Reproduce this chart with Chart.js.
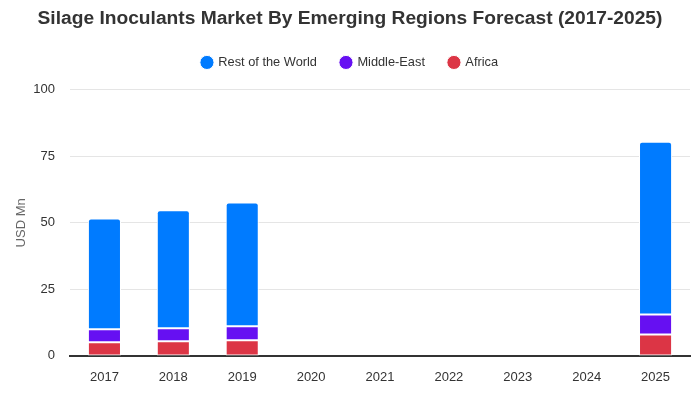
<!DOCTYPE html>
<html><head><meta charset="utf-8">
<script src="https://cdn.jsdelivr.net/npm/chart.js@4"></script>
<style>html,body{margin:0;padding:0;background:#fff}#w{width:700px;height:400px}</style>
</head><body><div id="w"><canvas id="c"></canvas></div>
<script>
const categories = ["2017","2018","2019","2020","2021","2022","2023","2024","2025"];
const africa = [5.1, 5.5, 5.9, null, null, null, null, null, 8.0];
const middleEast = [4.9, 4.9, 5.2, null, null, null, null, null, 7.6];
const restOfWorld = [41.6, 44.3, 46.6, null, null, null, null, null, 64.9];
const yTicks = [0, 25, 50, 75, 100];

const font = "'Liberation Sans', Arial, Helvetica, sans-serif";
const legendGap = {
  id: 'legendGap',
  beforeLayout(chart) {
    const l = chart.legend;
    if (l && !l._gapPatched) {
      const f = l.fit.bind(l);
      l.fit = function () { f(); this.height += 11; };
      l._gapPatched = true;
    }
  }
};
new Chart(document.getElementById('c'), {
  type: 'bar',
  data: {
    labels: categories,
    datasets: [
      {label: 'Africa', data: africa, backgroundColor: '#dc3545', borderColor: '#ffffff', borderWidth: 1, borderSkipped: false},
      {label: 'Middle-East', data: middleEast, backgroundColor: '#6610f2', borderColor: '#ffffff', borderWidth: 1, borderSkipped: false},
      {label: 'Rest of the World', data: restOfWorld, backgroundColor: '#007bff', borderColor: '#ffffff', borderWidth: 1, borderSkipped: false, borderRadius: {topLeft: 3, topRight: 3}}
    ]
  },
  options: {
    responsive: true, maintainAspectRatio: false, animation: false,
    layout: {padding: {left: 10, right: 10, top: 6, bottom: 8.5}},
    datasets: {bar: {barPercentage: 0.5, categoryPercentage: 0.96}},
    plugins: {
      title: {display: true, text: 'Silage Inoculants Market By Emerging Regions Forecast (2017-2025)', color: '#333', font: {family: font, size: 19.2, weight: 'bold'}, padding: {top: 1, bottom: 2}},
      legend: {reverse: true, labels: {usePointStyle: true, pointStyle: 'circle', boxWidth: 10, boxHeight: 10, padding: 24, color: '#333', font: {family: font, size: 12.8}}},
      tooltip: {enabled: false}
    },
    scales: {
      x: {stacked: true, grid: {display: false}, border: {color: '#333', width: 2}, ticks: {color: '#333', padding: 6, font: {family: font, size: 13}}},
      y: {stacked: true, min: 0, max: 100, afterBuildTicks: (ax) => { ax.ticks = yTicks.map(v => ({value: v})); },
          afterFit: (ax) => { ax.width = 60; },
          grid: {color: '#e5e5e5', drawTicks: false}, border: {display: false},
          ticks: {color: '#333', padding: 15, font: {family: font, size: 13}},
          title: {display: true, text: 'USD Mn', color: '#666', font: {family: font, size: 13}}}
    }
  },
  plugins: [legendGap]
});
</script></body></html>
